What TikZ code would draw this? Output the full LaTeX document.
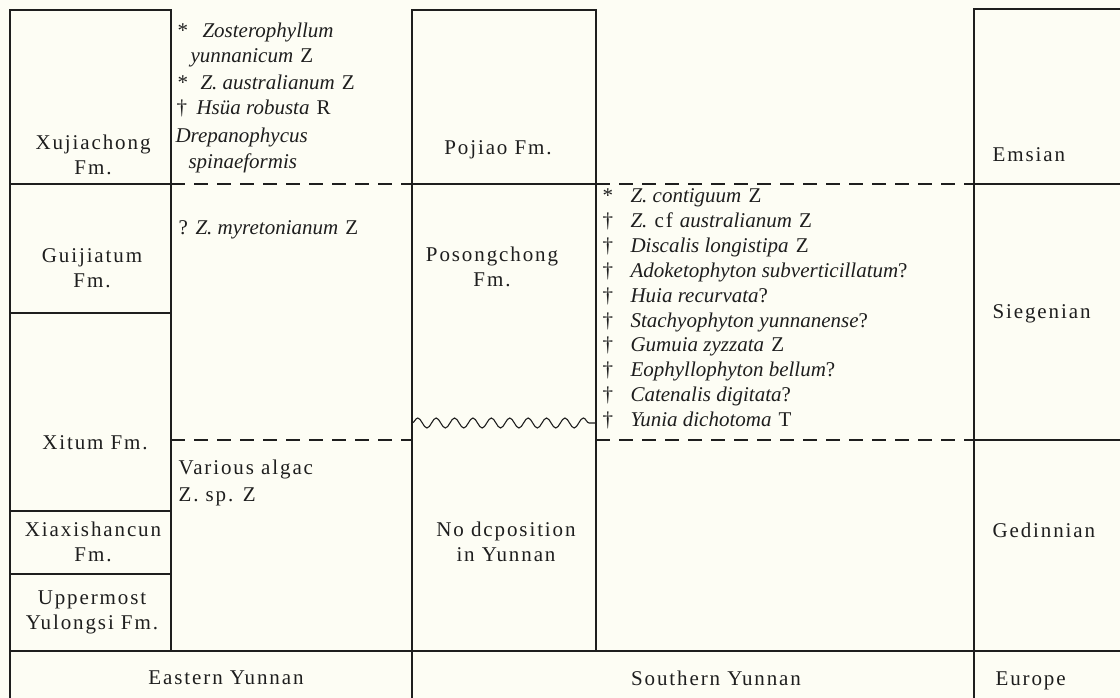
\documentclass[tikz,border=0pt]{standalone}
\usepackage{fontspec}
\setmainfont{Liberation Serif}[LetterSpace=9, ItalicFeatures={LetterSpace=0}]
\usetikzlibrary{decorations.pathmorphing}
\definecolor{paper}{HTML}{FDFDF4}
\definecolor{ink}{HTML}{1E1E1E}

\begin{document}
\begin{tikzpicture}[x=1pt, y=-1pt, line width=1.1pt, color=ink,
    every node/.style={inner sep=0pt, font=\fontsize{21}{25}\selectfont},
    fm/.style={anchor=north, align=center},
    one/.style={anchor=base},
    fos/.style={anchor=base west},
    gap/.style={dash pattern=on 14pt off 9pt},
    wavy/.style={decorate, decoration={snake, segment length=18.4pt, amplitude=5pt}}]
\fill [paper] (0,0) rectangle (1120,698);
\useasboundingbox (0,0) rectangle (1120,698);

% column frames
\draw (10,698) -- (10,10) -- (171,10) -- (171,651);
\draw (412,698) -- (412,10) -- (596,10) -- (596,651);
\draw (974,698) -- (974,9) -- (1120,9);
\draw (10,651) -- (1120,651);
\foreach \y in {184,313,511,574}
  \draw (10,\y) -- (171,\y);
\draw (412,184) -- (596,184);
\foreach \y in {184,440}
  \draw (974,\y) -- (1120,\y);

% stage boundaries
\foreach \y in {184,440} {
  \draw [gap] (171,\y) -- (412,\y);
  \draw [gap] (596,\y) -- (974,\y);
}
\draw [wavy] (412,423) -- (596,423);

% Eastern Yunnan
\node [fm] (xuj) at (93,134) {Xujiachong\\Fm.};
\node [fm] (gui) at (92,248) {Guijiatum\\Fm.};
\node [one] (xit) at (95,449) {Xitum Fm.};
\node [fm] (xia) at (93,521) {Xiaxishancun\\Fm.};
\node [fm] (upp) at (92,590) {Uppermost\\Yulongsi Fm.};

\node [fos] (e1) at (177,38) {\makebox[25pt][l]{*}\textit{Zosterophyllum}};
\node [fos] (e2) at (190,63) {\textit{yunnanicum} Z};
\node [fos] (e3) at (177,90) {\makebox[23pt][l]{*}\textit{Z. australianum} Z};
\node [fos] (e4) at (176,115) {\makebox[20pt][l]{\textdagger}\textit{Hsüa robusta} R};
\node [fos] (e5) at (175,143) {\textit{Drepanophycus}};
\node [fos] (e6) at (188,169) {\textit{spinaeformis}};
\node [fos] (emyr) at (178,234) {\makebox[17pt][l]{?}\textit{Z. myretonianum} Z};
\node [fos] (ealg) at (178,474) {Various algac};
\node [fos] (esp) at (178,501) {Z. sp. Z};

% Southern Yunnan
\node [one] (poj) at (498,155) {Pojiao Fm.};
\node [fm] (pos) at (492,246) {Posongchong\\Fm.};
\node [fm] (nodep) at (506,521) {No dcposition\\in Yunnan};

\foreach \m/\t [count=\i from 0] in {
    */{\textit{Z. contiguum} Z},
    \textdagger/{\textit{Z.} cf \textit{australianum} Z},
    \textdagger/{\textit{Discalis longistipa} Z},
    \textdagger/{\textit{Adoketophyton subverticillatum}?},
    \textdagger/{\textit{Huia recurvata}?},
    \textdagger/{\textit{Stachyophyton yunnanense}?},
    \textdagger/{\textit{Gumuia zyzzata} Z},
    \textdagger/{\textit{Eophyllophyton bellum}?},
    \textdagger/{\textit{Catenalis digitata}?},
    \textdagger/{\textit{Yunia dichotoma} T}}
  \node [fos] (s\i) at (602,203+24.8*\i) {\makebox[28pt][l]{\m}\t};

% Europe
\node [fos] (ems) at (992,162) {Emsian};
\node [fos] (sie) at (992,318) {Siegenian};
\node [fos] (ged) at (992,537) {Gedinnian};

% regions
\node [one] (east) at (226,684) {Eastern Yunnan};
\node [one] (south) at (716,685) {Southern Yunnan};
\node [fos] (eur) at (995,685) {Europe};
\end{tikzpicture}
\end{document}
